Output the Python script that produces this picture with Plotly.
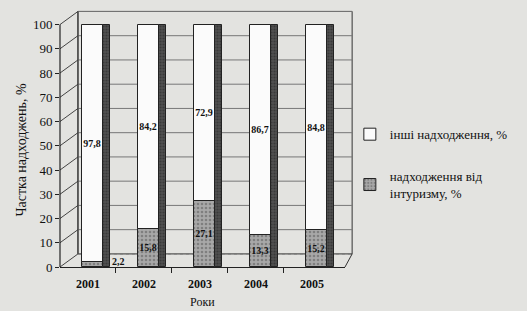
import plotly.graph_objects as go

years = ["2001", "2002", "2003", "2004", "2005"]
tourism = [2.2, 15.8, 27.1, 13.3, 15.2]
other = [97.8, 84.2, 72.9, 86.7, 84.8]
tourism_lbl = ["2,2", "15,8", "27,1", "13,3", "15,2"]
other_lbl = ["97,8", "84,2", "72,9", "86,7", "84,8"]
yticks = [0, 10, 20, 30, 40, 50, 60, 70, 80, 90, 100]

xs = list(range(len(years)))
totals = [a + b for a, b in zip(tourism, other)]
SERIF = "Liberation Serif"
BG = "#e3e3e0"
DEPTH = 5.4      # perspective lift of back wall (data units)
WALLX = 0.063    # perspective shift of back wall (paper units)
LBLFONT = dict(family=SERIF, size=10, color="#111", weight="bold")
FACE_OFF, FACE_W = -0.107, 0.377
SIDE_OFF, SIDE_W = 0.27, 0.12

fig = go.Figure()
fig.add_trace(go.Bar(
    x=xs, y=other, base=tourism, name="інші надходження, %",
    offset=FACE_OFF, width=FACE_W,
    marker=dict(color="#fbfbfb", line=dict(color="#222", width=1)),
    text=other_lbl, textposition="inside", insidetextanchor="middle",
    textangle=0, constraintext="none", textfont=LBLFONT,
    legendgroup="a",
))
fig.add_trace(go.Bar(
    x=xs, y=tourism, base=[0] * len(xs), name="надходження від<br>інтуризму, %",
    offset=FACE_OFF, width=FACE_W,
    marker=dict(color="#a8a8a8", line=dict(color="#222", width=1),
                pattern=dict(shape=".", fgcolor="#555", size=4, solidity=0.35)),
    text=["" if v < 5 else t for v, t in zip(tourism, tourism_lbl)],
    textposition="inside", insidetextanchor="middle",
    textangle=0, constraintext="none", textfont=LBLFONT,
    legendgroup="b",
))
fig.add_trace(go.Bar(
    x=xs, y=totals, base=[0] * len(xs), showlegend=False,
    offset=SIDE_OFF, width=SIDE_W,
    marker=dict(color="#505050", line=dict(color="#222", width=1),
                pattern=dict(shape=".", fgcolor="#222", size=3, solidity=0.4)),
    hoverinfo="skip",
))

for i, (v, t) in enumerate(zip(tourism, tourism_lbl)):
    if v < 5:
        fig.add_annotation(x=xs[i] + SIDE_OFF + SIDE_W, y=v, text="<b>" + t + "</b>",
                           showarrow=False, xanchor="left", yanchor="middle",
                           font=dict(family=SERIF, size=10, color="#111"))

fig.add_annotation(xref="paper", yref="paper", x=-0.135, y=0.455,
                   text="Частка надходжень, %", textangle=-90, showarrow=False,
                   xanchor="center", yanchor="middle",
                   font=dict(family=SERIF, size=14, color="#111"))
fig.add_annotation(xref="paper", yref="paper", x=0.5, y=-0.17,
                   text="Роки", showarrow=False, xanchor="center", yanchor="bottom",
                   font=dict(family=SERIF, size=12, color="#111"))

shapes = []
shapes.append(dict(type="rect", xref="paper", yref="y", x0=WALLX, x1=1.025,
                   y0=DEPTH, y1=100 + DEPTH, line=dict(color="#333", width=1),
                   layer="below"))
for v in yticks:
    shapes.append(dict(type="line", xref="paper", yref="y", x0=WALLX, x1=1.025,
                       y0=v + DEPTH, y1=v + DEPTH,
                       line=dict(color="#777", width=1, dash="dot" if v == 0 else "solid"),
                       layer="below"))
    shapes.append(dict(type="line", xref="paper", yref="y", x0=0, x1=WALLX,
                       y0=v, y1=v + DEPTH, line=dict(color="#444", width=1),
                       layer="below"))
shapes.append(dict(type="line", xref="paper", yref="y", x0=0, x1=0, y0=0, y1=100,
                   line=dict(color="#222", width=1.2)))
shapes.append(dict(type="line", xref="paper", yref="y", x0=WALLX, x1=WALLX, y0=DEPTH,
                   y1=100 + DEPTH, line=dict(color="#333", width=1), layer="below"))
shapes.append(dict(type="line", xref="paper", yref="y", x0=1.0, x1=1.025, y0=0, y1=DEPTH,
                   line=dict(color="#333", width=1), layer="below"))
fig.update_layout(shapes=shapes)

fig.update_layout(
    width=527, height=311,
    margin=dict(l=60, r=182, t=10, b=44, autoexpand=False),
    paper_bgcolor=BG, plot_bgcolor=BG,
    barmode="overlay", bargap=0,
    font=dict(family=SERIF, color="#111"),
    showlegend=True,
    legend=dict(x=1.017, y=0.575, xanchor="left", yanchor="top",
                bgcolor="rgba(0,0,0,0)", font=dict(family=SERIF, size=13, color="#111"),
                tracegroupgap=22, traceorder="grouped", itemwidth=30),
    xaxis=dict(range=[-0.5, 4.59], tickvals=xs, ticktext=years, showgrid=False,
               zeroline=False, showline=True, linecolor="#222", linewidth=1.2,
               ticks="", ticklabelstandoff=5,
               tickfont=dict(family=SERIF, size=12, color="#111", weight="bold"),
               minor=dict(tickvals=[x + 0.5 for x in xs[:-1]], ticks="outside",
                          ticklen=5, tickcolor="#222", showgrid=False),
               automargin=False),
    yaxis=dict(range=[0, 106], tickvals=yticks, showgrid=False, zeroline=False,
               showline=False, ticks="outside", ticklen=4, tickcolor="#222",
               automargin=False,
               tickfont=dict(family=SERIF, size=13, color="#111")),
)

fig.write_html("out.html",
               config={"displayModeBar": False},
               post_script="document.body.style.margin='0';"
                           "document.body.style.overflow='hidden';"
                           f"document.body.style.background='{BG}';")
